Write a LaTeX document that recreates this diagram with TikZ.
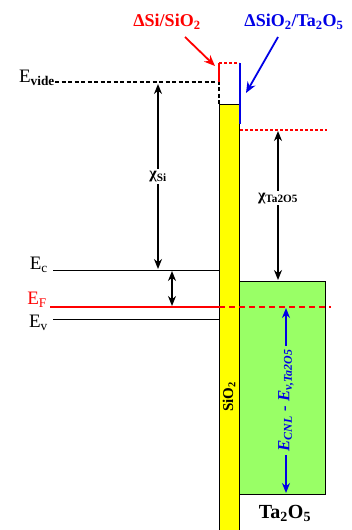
\documentclass[tikz,border=0pt]{standalone}
\usepackage{fontspec}
\setmainfont{Liberation Serif}
\usetikzlibrary{arrows.meta,positioning,calc}
\definecolor{bdox}{RGB}{255,255,0}
\definecolor{bdhk}{RGB}{153,255,102}
\definecolor{bdred}{RGB}{255,0,0}
\definecolor{bdblue}{RGB}{0,0,230}

\begin{document}
\begin{tikzpicture}[x=1pt, y=-1pt,
  lvl/.style={font=\fontsize{19}{19}\selectfont, inner sep=0pt},
  tag/.style={font=\bfseries\fontsize{18}{18}\selectfont, inner sep=0pt},
  gap/.style={font=\bfseries\fontsize{16}{16}\selectfont, fill=white, inner sep=2pt},
  band/.style={-, black, line width=0.8pt},
  dbl/.style={{Stealth[length=10pt,width=8pt]}-{Stealth[length=10pt,width=8pt]}, line width=1.6pt},
  ptr/.style={-{Stealth[length=11pt,width=9pt]}, line width=1.8pt}
]
\useasboundingbox (0,0) rectangle (352,530);

% oxide and high-k layers
\draw[fill=bdox, line width=0.8pt] (219,104) rectangle (239,531);
\draw[fill=bdhk, line width=0.8pt] (239,281) rectangle (325,494);
\node[font=\bfseries\fontsize{15}{15}\selectfont, rotate=90] (sio) at (229,397) {SiO\textsubscript{2}};
\node[font=\bfseries\fontsize{20}{20}\selectfont] (tao) at (285,513) {Ta\textsubscript{2}O\textsubscript{5}};

% silicon levels
\node[lvl, anchor=east] (evac) at (55,78) {E\textsubscript{\bfseries vide}};
\node[lvl, anchor=east] (ec) at (48,265) {E\textsubscript{c}};
\node[lvl, anchor=east, text=bdred] (ef) at (47,300) {E\textsubscript{F}};
\node[lvl, anchor=east] (ev) at (48,323) {E\textsubscript{v}};
\coordinate (vac) at (219,82);
\coordinate (cb) at (219,270);
\coordinate (fl) at (219,307);
\coordinate (vb) at (219,319);
\draw[dashed, line width=1.4pt, dash pattern=on 4pt off 2.5pt] (evac.east |- vac) -- (vac) -- (219,104);
\draw[band] (53,270) -- (cb);
\draw[band] (53,319) -- (vb);
\draw[bdred, line width=2pt] (50,307) -- (fl);
\draw[bdred, line width=2pt, dash pattern=on 6pt off 4pt] (fl) -- (331,307);

% interface dipoles
\coordinate (top) at (219,63);
\draw[bdred, line width=2pt] (vac) -- (top);
\draw[bdred, line width=2pt, dash pattern=on 3pt off 2pt] (top) -- (239,63);
\draw[bdblue, line width=2.4pt] (240,63) -- (240,124);
\draw[bdred, line width=2pt, dash pattern=on 3pt off 2pt] (240,130) -- (327,130);

\node[tag, text=bdred] (dsi) at (167,22) {ΔSi/SiO\textsubscript{2}};
\node[tag, text=bdblue] (dta) at (294,22) {ΔSiO\textsubscript{2}/Ta\textsubscript{2}O\textsubscript{5}};
\draw[ptr, bdred] (185,37) -- (215,66);
\draw[ptr, bdblue] (278,37) -- (246,93);

% electron affinities and CNL
\draw[dbl] (158,84) -- (158,269) node[gap, pos=0.5] (xsi) {χ\textsubscript{Si}};
\draw[dbl] (172,271) -- (172,306);
\draw[dbl] (278,131) -- (278,280) node[gap, pos=0.45] (xta) {χ\textsubscript{Ta2O5}};
\draw[dbl, bdblue] (286,308) -- (286,493)
  node[pos=0.5, fill=bdhk, rotate=90, text=bdblue, inner sep=3pt,
       font=\bfseries\itshape\fontsize{17}{17}\selectfont] (cnl)
  {E\textsubscript{CNL} - E\textsubscript{v,Ta2O5}};
\end{tikzpicture}
\end{document}
